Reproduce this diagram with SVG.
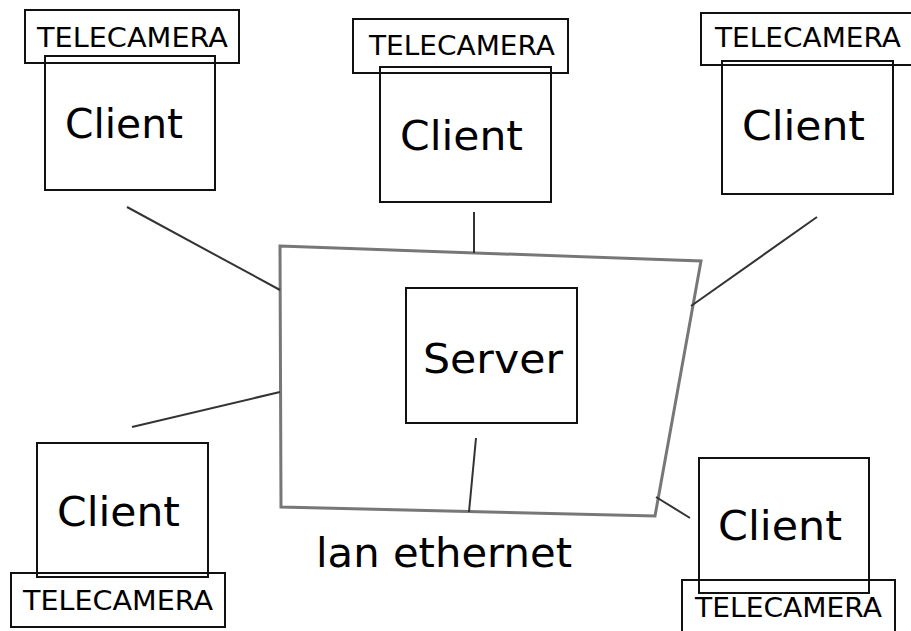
<svg xmlns="http://www.w3.org/2000/svg" width="911" height="631" viewBox="0 0 911 631">
<style>
.box{fill:none;stroke:#111;stroke-width:2}
.lan{fill:none;stroke:#777;stroke-width:3;stroke-linejoin:miter}
.wire{fill:none;stroke:#333;stroke-width:2}
.big{font-family:"DejaVu Sans",sans-serif;font-size:41px;fill:#000}
.cam{font-family:"DejaVu Sans",sans-serif;font-size:26px;fill:#000}
</style>
<rect width="911" height="631" fill="#fff"/>
<g id="connectors">
<polygon class="lan" points="280,246 701,261 655,516 281,507"/>
<line class="wire" x1="474" y1="212" x2="474" y2="253"/>
<line class="wire" x1="476" y1="438" x2="469" y2="512"/>
<line class="wire" x1="127" y1="207" x2="280" y2="290"/>
<line class="wire" x1="132" y1="427" x2="280" y2="392"/>
<line class="wire" x1="817" y1="217" x2="691" y2="306"/>
<line class="wire" x1="656" y1="497" x2="690" y2="518"/>
</g>
<g id="lan-label">
<text class="big" x="316" y="567" textLength="256" lengthAdjust="spacingAndGlyphs">lan ethernet</text>
</g>
<g id="server">
<rect class="box" x="406" y="288" width="171" height="135"/>
<text class="big" x="423" y="373" textLength="140" lengthAdjust="spacingAndGlyphs">Server</text>
</g>
<g id="client-top-left">
<rect class="box" x="25" y="10" width="214" height="53"/>
<text class="cam" x="37" y="47" textLength="191" lengthAdjust="spacingAndGlyphs">TELECAMERA</text>
<rect class="box" x="45" y="56" width="170" height="134"/>
<text class="big" x="65" y="138" textLength="118" lengthAdjust="spacingAndGlyphs">Client</text>
</g>
<g id="client-top-middle">
<rect class="box" x="353" y="19" width="215" height="54"/>
<text class="cam" x="369" y="55" textLength="186" lengthAdjust="spacingAndGlyphs">TELECAMERA</text>
<rect class="box" x="380" y="67" width="171" height="135"/>
<text class="big" x="400" y="150" textLength="123" lengthAdjust="spacingAndGlyphs">Client</text>
</g>
<g id="client-top-right">
<rect class="box" x="701" y="13" width="215" height="52"/>
<text class="cam" x="715" y="47" textLength="186" lengthAdjust="spacingAndGlyphs">TELECAMERA</text>
<rect class="box" x="722" y="61" width="171" height="133"/>
<text class="big" x="742" y="140" textLength="123" lengthAdjust="spacingAndGlyphs">Client</text>
</g>
<g id="client-bottom-left">
<rect class="box" x="37" y="443" width="171" height="134"/>
<text class="big" x="57" y="526" textLength="123" lengthAdjust="spacingAndGlyphs">Client</text>
<rect class="box" x="11" y="573" width="214" height="54"/>
<text class="cam" x="23" y="610" textLength="190" lengthAdjust="spacingAndGlyphs">TELECAMERA</text>
</g>
<g id="client-bottom-right">
<rect class="box" x="699" y="458" width="170" height="135"/>
<text class="big" x="718" y="540" textLength="124" lengthAdjust="spacingAndGlyphs">Client</text>
<rect class="box" x="682" y="580" width="213" height="60"/>
<text class="cam" x="695" y="617" textLength="187" lengthAdjust="spacingAndGlyphs">TELECAMERA</text>
</g>
</svg>
